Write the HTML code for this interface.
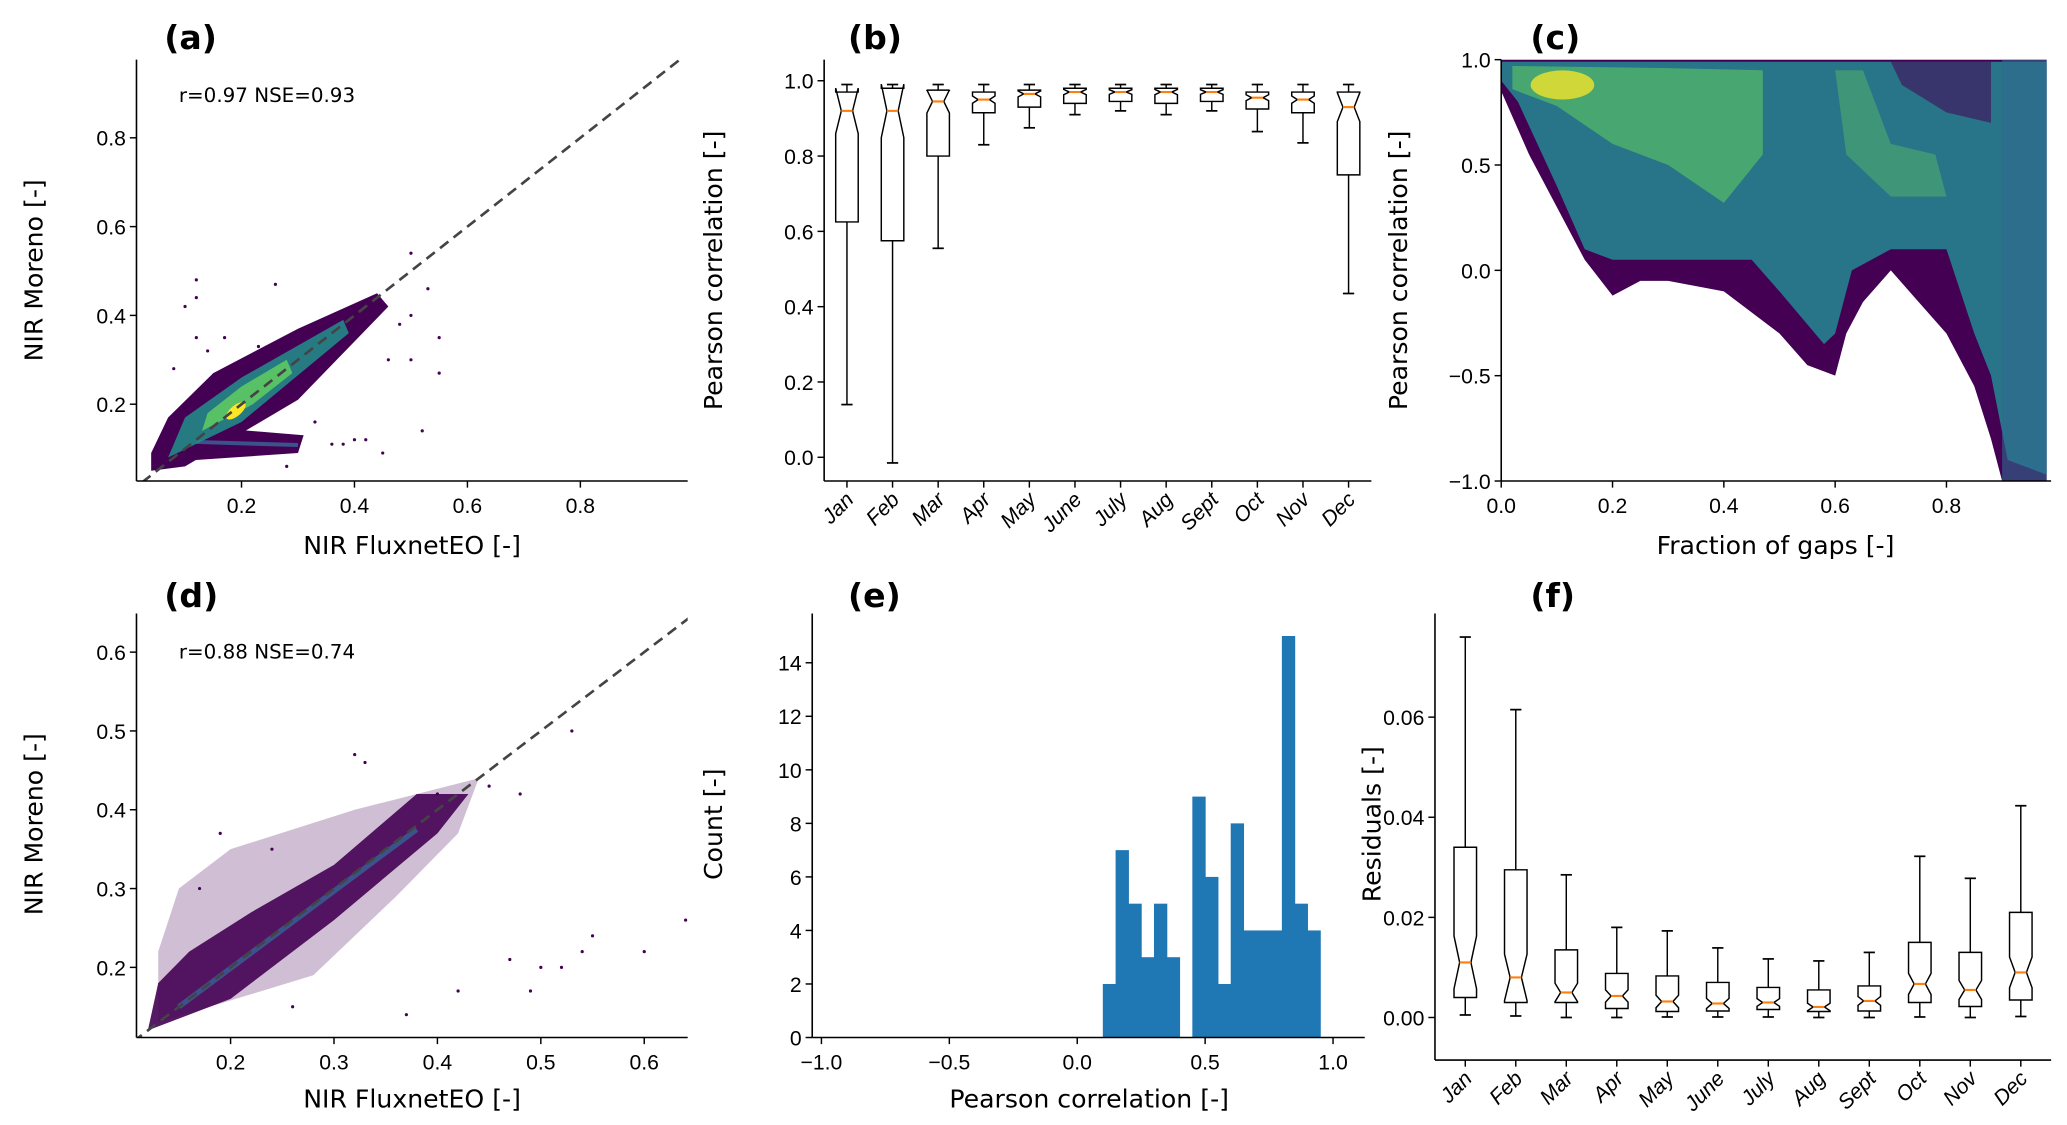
<!DOCTYPE html>
<html><head><meta charset="utf-8">
<style>
html,body{margin:0;padding:0;background:#fff;}
svg{display:block;}
.tick{font-family:"Liberation Sans Narrow","Liberation Sans",sans-serif;font-size:16px;fill:#000;}
.ann{font-family:"DejaVu Sans",sans-serif;font-size:15px;fill:#000;}
.lab{font-family:"DejaVu Sans",sans-serif;font-size:19px;fill:#000;}
.pan{font-family:"DejaVu Sans",sans-serif;font-size:25px;font-weight:bold;fill:#000;}
</style></head>
<body>
<svg id="fig" xmlns="http://www.w3.org/2000/svg" width="2067" height="1125" viewBox="0 0 1560 849"></svg>
<script>
// ---------- data ----------
const months = ["Jan","Feb","Mar","Apr","May","June","July","Aug","Sept","Oct","Nov","Dec"];
// panel b: Pearson correlation boxplots
const bLo  = [0.14,-0.015,0.555,0.83,0.875,0.91,0.92,0.91,0.92,0.865,0.835,0.435];
const bQ1  = [0.625,0.575,0.80,0.915,0.93,0.94,0.945,0.94,0.945,0.925,0.915,0.75];
const bMed = [0.92,0.92,0.945,0.95,0.965,0.97,0.97,0.97,0.97,0.955,0.95,0.93];
const bQ3  = [0.97,0.98,0.975,0.97,0.975,0.98,0.98,0.98,0.98,0.97,0.97,0.97];
const bHi  = [0.99,0.99,0.99,0.99,0.99,0.99,0.99,0.99,0.99,0.99,0.99,0.99];
// panel f: residual boxplots
const fLo  = [0.0005,0.0003,0,0,0.0001,0.0001,0.0001,0,0,0.0001,0,0.0002];
const fQ1  = [0.004,0.003,0.003,0.0018,0.0012,0.0013,0.0016,0.0012,0.0013,0.003,0.0022,0.0035];
const fMed = [0.011,0.008,0.005,0.0043,0.0032,0.0028,0.003,0.0021,0.0033,0.0067,0.0055,0.009];
const fQ3  = [0.034,0.0295,0.0135,0.0088,0.0083,0.007,0.006,0.0055,0.0063,0.015,0.013,0.021];
const fHi  = [0.076,0.0615,0.0285,0.018,0.0173,0.0139,0.0117,0.0113,0.013,0.0322,0.0278,0.0423];
const nSamples = 80;
// panel e: histogram
const binEdgesStart = [0.10,0.15,0.20,0.25,0.30,0.35,0.40,0.45,0.50,0.55,0.60,0.65,0.70,0.75,0.80,0.85,0.90];
const binCounts = [2,7,5,3,5,3,0,9,6,2,8,4,4,4,15,5,4];
const binWidth = 0.05;
// panel a: density layers (data coords)
const aOuter = [[0.04,0.05],[0.1,0.06],[0.3,0.21],[0.46,0.42],[0.44,0.45],[0.3,0.37],[0.15,0.27],[0.07,0.17],[0.04,0.09]];
const aBranch = [[0.07,0.07],[0.3,0.09],[0.31,0.13],[0.12,0.15],[0.08,0.13]];
const aTeal = [[0.07,0.08],[0.2,0.16],[0.39,0.36],[0.38,0.39],[0.2,0.26],[0.1,0.17]];
const aGreen = [[0.13,0.14],[0.22,0.2],[0.29,0.27],[0.28,0.3],[0.2,0.24],[0.14,0.18]];
const aOutX = [0.12,0.12,0.10,0.26,0.12,0.50,0.53,0.55,0.55,0.50,0.48,0.42,0.40,0.45,0.52,0.36,0.38,0.17,0.14,0.23,0.46,0.50,0.08,0.33,0.28];
const aOutY = [0.48,0.44,0.42,0.47,0.35,0.54,0.46,0.35,0.27,0.40,0.38,0.12,0.12,0.09,0.14,0.11,0.11,0.35,0.32,0.33,0.30,0.30,0.28,0.16,0.06];
// panel c: density layers
const cOuter = [[0,1],[0.98,1],[0.98,-1],[0.9,-1],[0.88,-0.8],[0.85,-0.55],[0.8,-0.3],[0.75,-0.15],[0.7,0.0],[0.65,-0.15],[0.62,-0.3],[0.6,-0.5],[0.55,-0.45],[0.5,-0.3],[0.4,-0.1],[0.3,-0.05],[0.25,-0.05],[0.2,-0.12],[0.15,0.05],[0.1,0.3],[0.05,0.55],[0,0.85]];
const cTeal = [[0,0.99],[0.98,0.99],[0.98,-0.97],[0.91,-0.9],[0.88,-0.5],[0.85,-0.3],[0.8,0.1],[0.7,0.1],[0.63,0.0],[0.6,-0.3],[0.58,-0.35],[0.5,-0.1],[0.45,0.05],[0.2,0.05],[0.15,0.1],[0.1,0.4],[0.03,0.8],[0,0.9]];
const cGreen = [[0.02,0.97],[0.3,0.96],[0.47,0.95],[0.47,0.55],[0.4,0.32],[0.3,0.5],[0.2,0.6],[0.1,0.78],[0.02,0.86]];
const cGreen2 = [[0.6,0.95],[0.65,0.95],[0.7,0.6],[0.78,0.55],[0.8,0.35],[0.7,0.35],[0.62,0.55]];
const cDark = [[0.7,0.99],[0.88,0.99],[0.88,0.7],[0.8,0.75],[0.72,0.88]];
// panel d
const dSpread = [[0.13,0.13],[0.28,0.19],[0.36,0.29],[0.42,0.37],[0.44,0.44],[0.32,0.4],[0.2,0.35],[0.15,0.3],[0.13,0.22]];
const dBand = [[0.12,0.12],[0.2,0.16],[0.3,0.26],[0.4,0.37],[0.43,0.42],[0.38,0.42],[0.3,0.33],[0.22,0.27],[0.16,0.22],[0.13,0.18]];
const dOutX = [0.32,0.33,0.40,0.48,0.53,0.55,0.54,0.60,0.64,0.52,0.50,0.47,0.49,0.42,0.37,0.26,0.19,0.24,0.17,0.45];
const dOutY = [0.47,0.46,0.42,0.42,0.50,0.24,0.22,0.22,0.26,0.20,0.20,0.21,0.17,0.17,0.14,0.15,0.37,0.35,0.30,0.43];

// ---------- helpers ----------
const NS="http://www.w3.org/2000/svg";
const svg=document.getElementById('fig');
function el(tag,attrs,parent){const e=document.createElementNS(NS,tag);for(const k in attrs)e.setAttribute(k,attrs[k]);(parent||svg).appendChild(e);return e;}
function txt(s,attrs,parent){const e=el('text',attrs,parent);e.textContent=s;return e;}
function axes(L,R,T,B,x0,x1,y0,y1){return {L,R,T,B,sx:v=>L+(v-x0)/(x1-x0)*(R-L),sy:v=>B-(v-y0)/(y1-y0)*(B-T)};}
function spines(ax,g){
  const s1=el('line',{x1:ax.L,y1:ax.T,x2:ax.L,y2:ax.B,stroke:'#000','stroke-width':1.2},g);
  
  
  const s2=el('line',{x1:ax.L,y1:ax.B,x2:ax.R,y2:ax.B,stroke:'#000','stroke-width':1.2},g);
  
  
}
function xticks(ax,vals,labels,g){vals.forEach((v,i)=>{const x=ax.sx(v);
  el('line',{x1:x,y1:ax.B,x2:x,y2:ax.B+5,stroke:'#000','stroke-width':1.1},g);
  const t=txt(labels[i],{x:x,y:ax.B+24,'text-anchor':'middle',class:'tick'},g);
  
  });}
function yticks(ax,vals,labels,g){vals.forEach((v,i)=>{const y=ax.sy(v);
  el('line',{x1:ax.L-5,y1:y,x2:ax.L,y2:y,stroke:'#000','stroke-width':1.1},g);
  const t=txt(labels[i],{x:ax.L-8,y:y+6,'text-anchor':'end',class:'tick'},g);
  
  });}
function monthTicks(ax,g){months.forEach((m,i)=>{const x=ax.sx(i+1);
  el('line',{x1:x,y1:ax.B,x2:x,y2:ax.B+5,stroke:'#000','stroke-width':1.1},g);
  const t=txt(m,{x:x+6,y:ax.B+15,'text-anchor':'end',class:'tick','font-style':'italic',transform:`rotate(-45 ${x+6} ${ax.B+15})`},g);
  
  });}
function label(s,x,y,rot,g,name){const a={x,y,'text-anchor':'middle',class:'lab'};if(rot)a.transform=`rotate(-90 ${x} ${y})`;
  const t=txt(s,a,g);}
function panel(s,x,y,name){const t=txt(s,{x,y,class:'pan'});}
function poly(ax,pts,fill,g,op){return el('polygon',{points:pts.map(p=>ax.sx(p[0])+','+ax.sy(p[1])).join(' '),fill,'fill-opacity':op||1},g);}
function clip(id,ax){const d=el('clipPath',{id});el('rect',{x:ax.L,y:ax.T,width:ax.R-ax.L,height:ax.B-ax.T},d);}
function boxes(ax,lo,q1,med,q3,hi,g,half){
  for(let i=0;i<lo.length;i++){
    const x=ax.sx(i+1);const iqr=q3[i]-q1[i];const nh=1.57*iqr/Math.sqrt(nSamples);
    const nlo=med[i]-nh,nhi=med[i]+nh;const w=half,wn=half/2;
    const bg=el('g',{},g);
    
    
    const pts=[[x-w,ax.sy(q1[i])],[x-w,ax.sy(nlo)],[x-wn,ax.sy(med[i])],[x-w,ax.sy(nhi)],[x-w,ax.sy(q3[i])],
      [x+w,ax.sy(q3[i])],[x+w,ax.sy(nhi)],[x+wn,ax.sy(med[i])],[x+w,ax.sy(nlo)],[x+w,ax.sy(q1[i])]];
    el('polygon',{points:pts.map(p=>p.join(',')).join(' '),fill:'none',stroke:'#000','stroke-width':1.1},bg);
    el('line',{x1:x,y1:ax.sy(q3[i]),x2:x,y2:ax.sy(hi[i]),stroke:'#000','stroke-width':1.1},bg);
    el('line',{x1:x,y1:ax.sy(q1[i]),x2:x,y2:ax.sy(lo[i]),stroke:'#000','stroke-width':1.1},bg);
    el('line',{x1:x-wn,y1:ax.sy(hi[i]),x2:x+wn,y2:ax.sy(hi[i]),stroke:'#000','stroke-width':1.3},bg);
    el('line',{x1:x-wn,y1:ax.sy(lo[i]),x2:x+wn,y2:ax.sy(lo[i]),stroke:'#000','stroke-width':1.3},bg);
    el('line',{x1:x-wn,y1:ax.sy(med[i]),x2:x+wn,y2:ax.sy(med[i]),stroke:'#ff7f0e','stroke-width':1.6},bg);
  }
}
const V={d:'#440154',p:'#3b528b',t:'#21918c',g:'#5ec962',y:'#fde725'};

// ---------- panel a ----------
(function(){
  const ax=axes(103,519,45,363,0.014,0.99,0.027,0.976);
  const g=el('g',{});
  clip('ca',ax);const c=el('g',{'clip-path':'url(#ca)'},g);
  poly(ax,aOuter,V.d,c);poly(ax,aBranch,V.d,c);
  el('line',{x1:ax.sx(0.12),y1:ax.sy(0.115),x2:ax.sx(0.3),y2:ax.sy(0.108),stroke:V.p,'stroke-width':3},c);
  poly(ax,aTeal,V.t,c,0.85);poly(ax,aGreen,V.g,c,0.9);
  el('ellipse',{cx:ax.sx(0.19),cy:ax.sy(0.185),rx:9,ry:4,fill:V.y,transform:`rotate(-40 ${ax.sx(0.19)} ${ax.sy(0.185)})`},c);
  aOutX.forEach((v,i)=>el('circle',{cx:ax.sx(v),cy:ax.sy(aOutY[i]),r:1.2,fill:V.d},c));
  el('line',{x1:ax.sx(0),y1:ax.sy(0),x2:ax.sx(1),y2:ax.sy(1),stroke:'#444','stroke-width':2,'stroke-dasharray':'8,5'},c);
  spines(ax,g);
  xticks(ax,[0.2,0.4,0.6,0.8],['0.2','0.4','0.6','0.8'],g);
  yticks(ax,[0.2,0.4,0.6,0.8],['0.2','0.4','0.6','0.8'],g);
  const s=txt('r=0.97 NSE=0.93',{x:135,y:77,class:'ann'},g);
  label('NIR FluxnetEO [-]',311,418,false,g,'x-axis-title');
  label('NIR Moreno [-]',32,204,true,g,'y-axis-title');
  panel('(a)',124,37,'panel-label-a');
})();

// ---------- panel b ----------
(function(){
  const ax=axes(622,1035,45,363,0.5,12.5,-0.063,1.056);
  const g=el('g',{});
  boxes(ax,bLo,bQ1,bMed,bQ3,bHi,g,8.5);
  spines(ax,g);
  yticks(ax,[0,0.2,0.4,0.6,0.8,1.0],['0.0','0.2','0.4','0.6','0.8','1.0'],g);
  monthTicks(ax,g);
  label('Pearson correlation [-]',545,204,true,g,'y-axis-title');
  panel('(b)',640,37,'panel-label-b');
})();

// ---------- panel c ----------
(function(){
  const ax=axes(1133,1548,45,363,0,0.988,-1,1);
  const g=el('g',{});
  clip('cc',ax);const c=el('g',{'clip-path':'url(#cc)'},g);
  poly(ax,cOuter,V.d,c);poly(ax,cTeal,'#26818e',c,0.9);poly(ax,cDark,V.d,c,0.55);
  poly(ax,cGreen,V.g,c,0.6);poly(ax,cGreen2,V.g,c,0.4);
  el('ellipse',{cx:ax.sx(0.11),cy:ax.sy(0.88),rx:24,ry:11,fill:V.y,'fill-opacity':0.75},c);
  el('rect',{x:ax.sx(0.9),y:ax.T,width:ax.sx(0.98)-ax.sx(0.9),height:ax.B-ax.T,fill:'#2f6b8e','fill-opacity':0.6},c);
  spines(ax,g);
  xticks(ax,[0,0.2,0.4,0.6,0.8],['0.0','0.2','0.4','0.6','0.8'],g);
  yticks(ax,[-1,-0.5,0,0.5,1],['\u22121.0','\u22120.5','0.0','0.5','1.0'],g);
  label('Fraction of gaps [-]',1340,418,false,g,'x-axis-title');
  label('Pearson correlation [-]',1062,204,true,g,'y-axis-title');
  panel('(c)',1155,37,'panel-label-c');
})();

// ---------- panel d ----------
(function(){
  const ax=axes(103,519,463,783,0.109,0.642,0.111,0.649);
  const g=el('g',{});
  clip('cd',ax);const c=el('g',{'clip-path':'url(#cd)'},g);
  poly(ax,dSpread,V.d,c,0.25);poly(ax,dBand,V.d,c,0.9);
  el('line',{x1:ax.sx(0.15),y1:ax.sy(0.15),x2:ax.sx(0.38),y2:ax.sy(0.375),stroke:V.p,'stroke-width':4},c);
  dOutX.forEach((v,i)=>el('circle',{cx:ax.sx(v),cy:ax.sy(dOutY[i]),r:1.2,fill:V.d},c));
  el('line',{x1:ax.sx(0),y1:ax.sy(0),x2:ax.sx(1),y2:ax.sy(1),stroke:'#444','stroke-width':2,'stroke-dasharray':'8,5'},c);
  spines(ax,g);
  xticks(ax,[0.2,0.3,0.4,0.5,0.6],['0.2','0.3','0.4','0.5','0.6'],g);
  yticks(ax,[0.2,0.3,0.4,0.5,0.6],['0.2','0.3','0.4','0.5','0.6'],g);
  const s=txt('r=0.88 NSE=0.74',{x:135,y:497,class:'ann'},g);
  label('NIR FluxnetEO [-]',311,836,false,g,'x-axis-title');
  label('NIR Moreno [-]',32,622,true,g,'y-axis-title');
  panel('(d)',124,458,'panel-label-d');
})();

// ---------- panel e ----------
(function(){
  const ax=axes(613,1030,463,783,-1.036,1.124,0,15.84);
  const g=el('g',{});
  binCounts.forEach((c,i)=>{ if(!c) return;
    const r=el('rect',{x:ax.sx(binEdgesStart[i]),y:ax.sy(c),width:ax.sx(binEdgesStart[i]+binWidth)-ax.sx(binEdgesStart[i])+0.4,height:ax.B-ax.sy(c),fill:'#1f77b4'},g);
    
    
  });
  spines(ax,g);
  xticks(ax,[-1,-0.5,0,0.5,1],['\u22121.0','\u22120.5','0.0','0.5','1.0'],g);
  yticks(ax,[0,2,4,6,8,10,12,14],['0','2','4','6','8','10','12','14'],g);
  label('Pearson correlation [-]',822,836,false,g,'x-axis-title');
  label('Count [-]',545,622,true,g,'y-axis-title');
  panel('(e)',640,458,'panel-label-e');
})();

// ---------- panel f ----------
(function(){
  const ax=axes(1083,1548,463,800,0.4,12.6,-0.0085,0.0807);
  const g=el('g',{});
  boxes(ax,fLo,fQ1,fMed,fQ3,fHi,g,8.5);
  spines(ax,g);
  yticks(ax,[0,0.02,0.04,0.06],['0.00','0.02','0.04','0.06'],g);
  monthTicks(ax,g);
  label('Residuals [-]',1042,622,true,g,'y-axis-title');
  panel('(f)',1155,458,'panel-label-f');
})();
</script>
</body></html>
